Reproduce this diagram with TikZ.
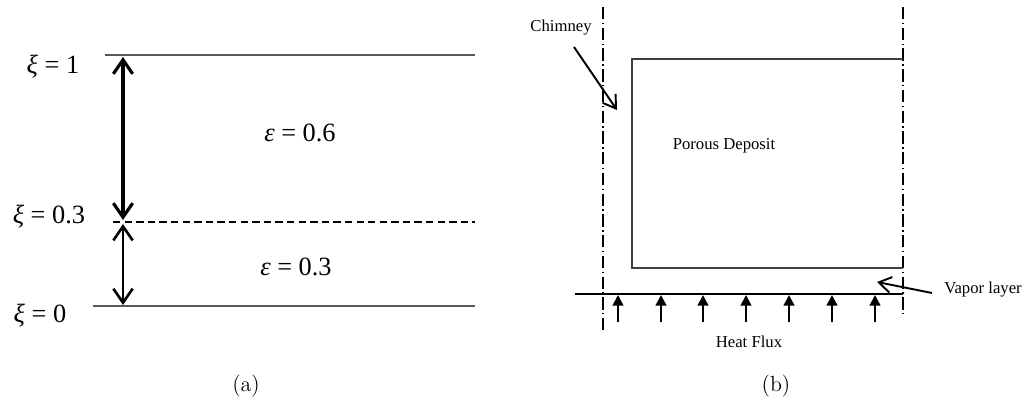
\documentclass[tikz,border=0pt]{standalone}
\usepackage{fontspec}
\newfontfamily\tms{Liberation Serif}
\usetikzlibrary{arrows.meta}

\begin{document}
\begin{tikzpicture}[x=0.02cm,y=-0.02cm,
    big/.style={font=\tms\fontsize{15}{18}\selectfont,inner sep=0pt},
    small/.style={font=\tms\fontsize{9.5}{11}\selectfont,inner sep=0pt},
    level/.style={draw=black!65,line width=0.9pt},
    axis/.style={draw=black,line width=0.7pt,dash pattern=on 7pt off 2pt on 0.8pt off 2pt},
    span/.style={line width=1.5pt,{Straight Barb[length=8pt,width=11pt]}-{Straight Barb[length=8pt,width=11pt]}},
    flux/.style={line width=1.3pt,-{Triangle[length=6pt,width=6pt]}},
    pointer/.style={line width=1.1pt,-{Straight Barb[length=7pt,width=9pt]}}]
  \useasboundingbox (0,0) rectangle (1023,410);

  % (a) layers
  \coordinate (t0) at (105,55);  \coordinate (t1) at (475,55);
  \coordinate (m0) at (113,222); \coordinate (m1) at (475,222);
  \coordinate (b0) at (93,306);  \coordinate (b1) at (475,306);
  \draw[level] (t0) -- (t1);
  \draw[level,draw=black,line width=0.8pt,dash pattern=on 4.2pt off 2.4pt] (m0) -- (m1);
  \draw[level] (b0) -- (b1);

  \coordinate (s0) at (123,57);  \coordinate (s1) at (123,220);
  \coordinate (s2) at (123,224); \coordinate (s3) at (123,305);
  \path[span,line width=1.8pt] (s0) edge (s1);
  \path[span] (s2) edge (s3);

  \node[big] (xi1) at (53,67) {\textit{ξ} = 1};
  \node[big] (xi3) at (49,217) {\textit{ξ} = 0.3};
  \node[big] (xi0) at (40,316) {\textit{ξ} = 0};
  \node[big] (ep6) at (300,133) {\textit{ε} = 0.6};
  \node[big] (ep3) at (296,267) {\textit{ε} = 0.3};

  \node[font=\fontsize{12.5}{14}\selectfont] (capa) at (246,386) {(a)};

  % (b) deposit
  \draw[axis] (603,7) -- (603,333);
  \draw[axis] (903,7) -- (903,317);
  \draw[level,draw=black!75,line width=0.7pt] (903,59) -- (632,59) -- (632,268) -- (903,268);
  \coordinate (w0) at (575,294); \coordinate (w1) at (903,294);
  \draw[line width=0.7pt] (w0) -- (w1);

  \foreach \x [count=\i] in {618,661,703,746,789,832,875} {
    \coordinate (f\i) at (\x,322);
    \coordinate (g\i) at (\x,295);
    \path[flux] (f\i) edge (g\i);
  }

  \node[small] (chim) at (561,28) {Chimney};
  \node[small] (por) at (724,146) {Porous Deposit};
  \node[small,anchor=west] (vap) at (944,290) {Vapor layer};
  \node[small] (heat) at (749,342) {Heat Flux};

  \coordinate (c0) at (574,47);  \coordinate (c1) at (617,110);
  \coordinate (v0) at (932,293); \coordinate (v1) at (877,282);
  \path[pointer] (c0) edge (c1);
  \path[pointer] (v0) edge (v1);

  \node[font=\fontsize{12.5}{14}\selectfont] (capb) at (776,386) {(b)};
\end{tikzpicture}
\end{document}
